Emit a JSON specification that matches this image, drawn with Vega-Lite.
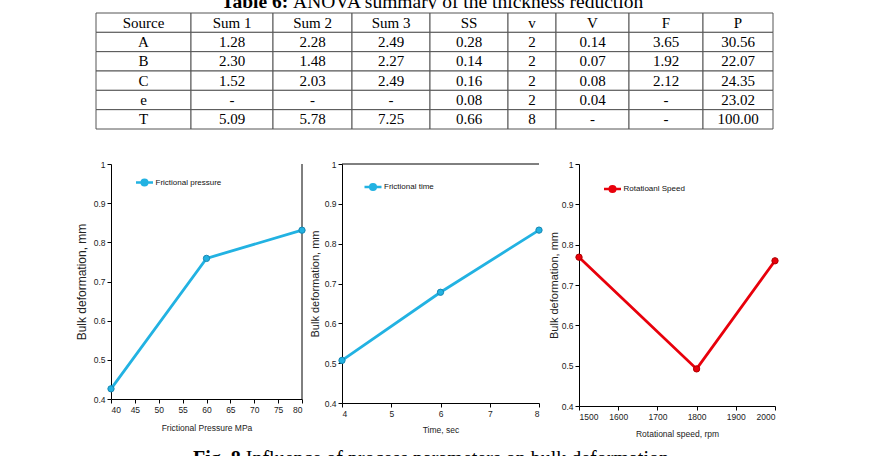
{
  "$schema": "https://vega.github.io/schema/vega-lite/v6.json",
  "padding": 0,
  "background": "white",
  "spacing": 3,
  "bounds": "full",
  "datasets": {
    "table": [
      {"src": "Source", "s1": "Sum 1", "s2": "Sum 2", "s3": "Sum 3", "ss": "SS", "dof": "v", "ms": "V", "f": "F", "p": "P"},
      {"src": "A", "s1": "1.28", "s2": "2.28", "s3": "2.49", "ss": "0.28", "dof": "2", "ms": "0.14", "f": "3.65", "p": "30.56"},
      {"src": "B", "s1": "2.30", "s2": "1.48", "s3": "2.27", "ss": "0.14", "dof": "2", "ms": "0.07", "f": "1.92", "p": "22.07"},
      {"src": "C", "s1": "1.52", "s2": "2.03", "s3": "2.49", "ss": "0.16", "dof": "2", "ms": "0.08", "f": "2.12", "p": "24.35"},
      {"src": "e", "s1": "-", "s2": "-", "s3": "-", "ss": "0.08", "dof": "2", "ms": "0.04", "f": "-", "p": "23.02"},
      {"src": "T", "s1": "5.09", "s2": "5.78", "s3": "7.25", "ss": "0.66", "dof": "8", "ms": "-", "f": "-", "p": "100.00"}
    ]
  },
  "vconcat": [
    {
      "width": 870, "height": 9,
      "data": {"values": [{"a": "Table 6:", "b": "ANOVA summary of the thickness reduction"}]},
      "layer": [
        {"mark": {"type": "text", "clip": true, "align": "right", "baseline": "alphabetic", "dx": -146.8, "dy": 3.5, "font": "Liberation Serif", "fontSize": 19.5, "fontWeight": "bold", "color": "black"}, "encoding": {"text": {"field": "a"}}},
        {"mark": {"type": "text", "clip": true, "align": "left", "baseline": "alphabetic", "dx": -141.9, "dy": 3.5, "font": "Liberation Serif", "fontSize": 19.5, "color": "black"}, "encoding": {"text": {"field": "b"}}}
      ]
    },
    {
      "hconcat": [
        {"width": 96, "height": 143.5, "data": {"values": []}, "mark": "rect"},
        {"width": 95, "height": 116, "data": {"name": "table"},
         "encoding": {"y": {"field": "src", "type": "ordinal", "sort": null, "axis": null, "scale": {"paddingInner": 0, "paddingOuter": 0}}},
         "layer": [
           {"mark": {"type": "rect", "fill": "white", "stroke": "#555", "strokeWidth": 1}},
           {"mark": {"type": "text", "font": "Liberation Serif", "fontSize": 15, "color": "black"}, "encoding": {"text": {"field": "src"}}}
         ]},
        {"width": 82, "height": 116, "data": {"name": "table"},
         "encoding": {"y": {"field": "src", "type": "ordinal", "sort": null, "axis": null, "scale": {"paddingInner": 0, "paddingOuter": 0}}},
         "layer": [
           {"mark": {"type": "rect", "fill": "white", "stroke": "#555", "strokeWidth": 1}},
           {"mark": {"type": "text", "font": "Liberation Serif", "fontSize": 15, "color": "black"}, "encoding": {"text": {"field": "s1"}}}
         ]},
        {"width": 79, "height": 116, "data": {"name": "table"},
         "encoding": {"y": {"field": "src", "type": "ordinal", "sort": null, "axis": null, "scale": {"paddingInner": 0, "paddingOuter": 0}}},
         "layer": [
           {"mark": {"type": "rect", "fill": "white", "stroke": "#555", "strokeWidth": 1}},
           {"mark": {"type": "text", "font": "Liberation Serif", "fontSize": 15, "color": "black"}, "encoding": {"text": {"field": "s2"}}}
         ]},
        {"width": 78, "height": 116, "data": {"name": "table"},
         "encoding": {"y": {"field": "src", "type": "ordinal", "sort": null, "axis": null, "scale": {"paddingInner": 0, "paddingOuter": 0}}},
         "layer": [
           {"mark": {"type": "rect", "fill": "white", "stroke": "#555", "strokeWidth": 1}},
           {"mark": {"type": "text", "font": "Liberation Serif", "fontSize": 15, "color": "black"}, "encoding": {"text": {"field": "s3"}}}
         ]},
        {"width": 78, "height": 116, "data": {"name": "table"},
         "encoding": {"y": {"field": "src", "type": "ordinal", "sort": null, "axis": null, "scale": {"paddingInner": 0, "paddingOuter": 0}}},
         "layer": [
           {"mark": {"type": "rect", "fill": "white", "stroke": "#555", "strokeWidth": 1}},
           {"mark": {"type": "text", "font": "Liberation Serif", "fontSize": 15, "color": "black"}, "encoding": {"text": {"field": "ss"}}}
         ]},
        {"width": 48, "height": 116, "data": {"name": "table"},
         "encoding": {"y": {"field": "src", "type": "ordinal", "sort": null, "axis": null, "scale": {"paddingInner": 0, "paddingOuter": 0}}},
         "layer": [
           {"mark": {"type": "rect", "fill": "white", "stroke": "#555", "strokeWidth": 1}},
           {"mark": {"type": "text", "font": "Liberation Serif", "fontSize": 15, "color": "black"}, "encoding": {"text": {"field": "dof"}}}
         ]},
        {"width": 73, "height": 116, "data": {"name": "table"},
         "encoding": {"y": {"field": "src", "type": "ordinal", "sort": null, "axis": null, "scale": {"paddingInner": 0, "paddingOuter": 0}}},
         "layer": [
           {"mark": {"type": "rect", "fill": "white", "stroke": "#555", "strokeWidth": 1}},
           {"mark": {"type": "text", "font": "Liberation Serif", "fontSize": 15, "color": "black"}, "encoding": {"text": {"field": "ms"}}}
         ]},
        {"width": 74, "height": 116, "data": {"name": "table"},
         "encoding": {"y": {"field": "src", "type": "ordinal", "sort": null, "axis": null, "scale": {"paddingInner": 0, "paddingOuter": 0}}},
         "layer": [
           {"mark": {"type": "rect", "fill": "white", "stroke": "#555", "strokeWidth": 1}},
           {"mark": {"type": "text", "font": "Liberation Serif", "fontSize": 15, "color": "black"}, "encoding": {"text": {"field": "f"}}}
         ]},
        {"width": 70, "height": 116, "data": {"name": "table"},
         "encoding": {"y": {"field": "src", "type": "ordinal", "sort": null, "axis": null, "scale": {"paddingInner": 0, "paddingOuter": 0}}},
         "layer": [
           {"mark": {"type": "rect", "fill": "white", "stroke": "#555", "strokeWidth": 1}},
           {"mark": {"type": "text", "font": "Liberation Serif", "fontSize": 15, "color": "black"}, "encoding": {"text": {"field": "p"}}}
         ]}
      ],
      "spacing": 0,
      "bounds": "flush"
    },
    {
      "hconcat": [
        {"width": 71, "height": 277.5, "data": {"values": []}, "mark": "rect"},
        {
          "width": 191, "height": 235,
          "data": {"values": [
            {"s": "Frictional pressure", "x": 40, "y": 0.426},
            {"s": "Frictional pressure", "x": 60, "y": 0.759},
            {"s": "Frictional pressure", "x": 80, "y": 0.831}
          ]},
          "layer": [
            {"data": {"values": [{}]}, "mark": {"type": "rule", "color": "black", "strokeWidth": 1},
             "encoding": {
               "x": {"datum": 80, "type": "quantitative", "scale": {"domain": [40, 80], "nice": false, "zero": false}, "axis": {"values": [40, 45, 50, 55, 60, 65, 70, 75, 80], "title": "Frictional Pressure MPa", "titlePadding": 10, "labelOverlap": false}},
               "y": {"datum": 0.4, "type": "quantitative", "scale": {"domain": [0.4, 1], "nice": false, "zero": false}, "axis": {"values": [0.4, 0.5, 0.6, 0.7, 0.8, 0.9, 1], "format": "~g", "title": "Bulk deformation, mm", "titleFontSize": 12, "titlePadding": 5, "labelOverlap": false}},
               "y2": {"datum": 1}
             }},
            {"mark": {"type": "line", "strokeWidth": 2.8, "point": {"filled": true, "size": 40, "stroke": "#1788b3", "strokeWidth": 1}},
             "encoding": {
               "x": {"field": "x", "type": "quantitative", "scale": {"domain": [40, 80], "nice": false, "zero": false}, "axis": {"values": [40, 45, 50, 55, 60, 65, 70, 75, 80], "title": "Frictional Pressure MPa", "titlePadding": 10, "labelOverlap": false}},
               "y": {"field": "y", "type": "quantitative", "scale": {"domain": [0.4, 1], "nice": false, "zero": false}, "axis": {"values": [0.4, 0.5, 0.6, 0.7, 0.8, 0.9, 1], "format": "~g", "title": "Bulk deformation, mm", "titleFontSize": 12, "titlePadding": 5, "labelOverlap": false}},
               "color": {"field": "s", "type": "nominal", "scale": {"range": ["#22b2e2"]}, "legend": {"legendX": 23.5, "legendY": 8.5, "encode": {"symbols": {"update": {"fill": {"value": "#22b2e2"}, "stroke": {"value": "#22b2e2"}}}}}}
             }}
          ]
        },
        {
          "width": 197, "height": 239,
          "data": {"values": [
            {"s": "Frictional time", "x": 4, "y": 0.507},
            {"s": "Frictional time", "x": 6, "y": 0.678},
            {"s": "Frictional time", "x": 8, "y": 0.834}
          ]},
          "layer": [
            {"data": {"values": [{}]}, "mark": {"type": "rule", "color": "black", "strokeWidth": 1},
             "encoding": {
               "x": {"datum": 4, "type": "quantitative", "scale": {"domain": [4, 8], "nice": false, "zero": false}, "axis": {"values": [4, 5, 6, 7, 8], "title": "Time, sec", "titlePadding": 8, "labelOverlap": false}},
               "x2": {"datum": 8},
               "y": {"datum": 1, "type": "quantitative", "scale": {"domain": [0.4, 1], "nice": false, "zero": false}, "axis": {"values": [0.4, 0.5, 0.6, 0.7, 0.8, 0.9, 1], "format": "~g", "title": "Bulk deformation, mm", "titleFontSize": 11, "titlePadding": 4, "labelOverlap": false}}
             }},
            {"mark": {"type": "line", "strokeWidth": 2.8, "point": {"filled": true, "size": 40, "stroke": "#1788b3", "strokeWidth": 1}},
             "encoding": {
               "x": {"field": "x", "type": "quantitative", "scale": {"domain": [4, 8], "nice": false, "zero": false}, "axis": {"values": [4, 5, 6, 7, 8], "title": "Time, sec", "titlePadding": 8, "labelOverlap": false}},
               "y": {"field": "y", "type": "quantitative", "scale": {"domain": [0.4, 1], "nice": false, "zero": false}, "axis": {"values": [0.4, 0.5, 0.6, 0.7, 0.8, 0.9, 1], "format": "~g", "title": "Bulk deformation, mm", "titleFontSize": 11, "titlePadding": 4, "labelOverlap": false}},
               "color": {"field": "s", "type": "nominal", "scale": {"range": ["#22b2e2"]}, "legend": {"legendX": 21, "legendY": 13, "encode": {"symbols": {"update": {"fill": {"value": "#22b2e2"}, "stroke": {"value": "#22b2e2"}}}}}}
             }}
          ]
        },
        {
          "width": 196, "height": 242,
          "data": {"values": [
            {"s": "Rotatioanl Speed", "x": 1500, "y": 0.769},
            {"s": "Rotatioanl Speed", "x": 1800, "y": 0.492},
            {"s": "Rotatioanl Speed", "x": 2000, "y": 0.76}
          ]},
          "mark": {"type": "line", "strokeWidth": 2.8, "point": {"filled": true, "size": 40, "stroke": "#b00000", "strokeWidth": 1}},
          "encoding": {
            "x": {"field": "x", "type": "quantitative", "scale": {"domain": [1500, 2000], "nice": false, "zero": false}, "axis": {"values": [1500, 1600, 1700, 1800, 1900, 2000], "format": "d", "title": "Rotational speed, rpm", "titlePadding": 9, "labelOverlap": false}},
            "y": {"field": "y", "type": "quantitative", "scale": {"domain": [0.4, 1], "nice": false, "zero": false}, "axis": {"values": [0.4, 0.5, 0.6, 0.7, 0.8, 0.9, 1], "format": "~g", "title": "Bulk deformation, mm", "titleFontSize": 11, "titlePadding": 2, "labelOverlap": false}},
            "color": {"field": "s", "type": "nominal", "scale": {"range": ["#e8000b"]}, "legend": {"legendX": 23.5, "legendY": 15, "encode": {"symbols": {"update": {"fill": {"value": "#e8000b"}, "stroke": {"value": "#e8000b"}}}}}}
          }
        }
      ],
      "spacing": 40,
      "bounds": "flush",
      "resolve": {"scale": {"color": "independent", "x": "independent", "y": "independent"}, "legend": {"color": "independent"}}
    },
    {
      "width": 870, "height": 20,
      "data": {"values": [{"a": "Fig. 8", "b": "Influence of process parameters on bulk deformation"}]},
      "layer": [
        {"mark": {"type": "text", "align": "left", "baseline": "alphabetic", "dx": -242, "dy": 10, "font": "Liberation Serif", "fontSize": 20, "fontWeight": "bold", "color": "black"}, "encoding": {"text": {"field": "a"}}},
        {"mark": {"type": "text", "align": "left", "baseline": "alphabetic", "dx": -189.2, "dy": 10, "font": "Liberation Serif", "fontSize": 20, "color": "black"}, "encoding": {"text": {"field": "b"}}}
      ]
    }
  ],
  "resolve": {"scale": {"color": "independent"}, "legend": {"color": "independent"}},
  "config": {
    "view": {"stroke": null},
    "axis": {
      "grid": false, "domainColor": "black", "domainWidth": 1, "tickColor": "black", "tickSize": 4, "tickWidth": 1,
      "labelFont": "Liberation Sans", "labelFontSize": 8.5, "labelColor": "#222", "labelPadding": 2,
      "titleFont": "Liberation Sans", "titleFontSize": 8.5, "titleFontWeight": "normal", "titleColor": "#222"
    },
    "legend": {
      "orient": "none", "title": null, "padding": 0,
      "symbolType": "M-1,0L1,0M-0.33,0A0.33,0.33,0,1,0,0.33,0A0.33,0.33,0,1,0,-0.33,0Z",
      "symbolSize": 289, "symbolStrokeWidth": 2.5,
      "labelFont": "Liberation Sans", "labelFontSize": 8, "labelColor": "#111", "labelOffset": 1
    }
  }
}
